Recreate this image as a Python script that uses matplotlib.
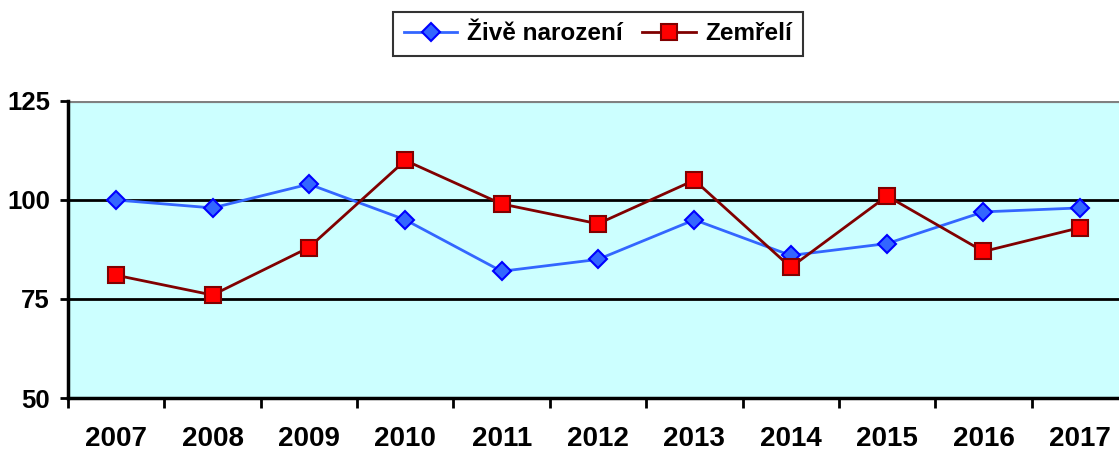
import matplotlib
matplotlib.use("Agg")
import matplotlib.pyplot as plt
from matplotlib.ticker import FixedLocator

years = ["2007", "2008", "2009", "2010", "2011", "2012", "2013", "2014", "2015", "2016", "2017"]
zive_narozeni = [100, 98, 104, 95, 82, 85, 95, 86, 89, 97, 98]
zemreli = [81, 76, 88, 110, 99, 94, 105, 83, 101, 87, 93]
y_ticks = [50, 75, 100, 125]

plt.rcParams["font.family"] = ["Liberation Sans", "DejaVu Sans"]
plt.rcParams["font.weight"] = "bold"

fig = plt.figure(figsize=(11.19, 4.5), dpi=100)
# right edge of the plot area runs past the figure, as in the source
ax = fig.add_axes([68 / 1119, 52 / 450, 1060 / 1119, 297 / 450])
ax.set_facecolor("#CCFFFF")

x = list(range(len(years)))
ax.plot(x, zive_narozeni, color="#3366FF", linewidth=2, marker="D", markersize=9,
        markerfacecolor="#3366FF", markeredgecolor="#0000FF", markeredgewidth=1.5,
        label="Živě narození", zorder=4)
ax.plot(x, zemreli, color="#800000", linewidth=2, marker="s", markersize=11,
        markerfacecolor="#FF0000", markeredgecolor="#800000", markeredgewidth=1.5,
        label="Zemřelí", zorder=5)

ax.set_xlim(-0.5, len(years) - 0.5)
ax.set_ylim(50, 125)
ax.set_yticks(y_ticks)
ax.set_yticklabels([str(v) for v in y_ticks], fontsize=18.5, fontweight="bold")
ax.set_xticks(x)
ax.set_xticklabels(years, fontsize=20, fontweight="bold")
ax.xaxis.set_minor_locator(FixedLocator([i - 0.5 for i in range(len(years) + 1)]))
ax.tick_params(axis="x", which="major", length=0, pad=20)
ax.tick_params(axis="x", which="minor", length=7, width=2, direction="out")
ax.tick_params(axis="y", length=6, width=2, direction="out", pad=7)

for v in [75, 100]:
    ax.axhline(v, color="black", linewidth=2, zorder=2)
ax.axhline(125, color="#808080", linewidth=3, zorder=2)

for s in ["top", "right"]:
    ax.spines[s].set_visible(False)
ax.spines["left"].set_linewidth(2.5)
ax.spines["bottom"].set_linewidth(2.5)

leg = fig.legend(loc="center", bbox_to_anchor=(598 / 1119, 1 - 34 / 450), ncol=2,
                 fontsize=17.5, frameon=True, fancybox=False, handlelength=2.2,
                 columnspacing=0.8, handletextpad=0.4, borderpad=0.45)
leg.get_frame().set_edgecolor("black")
leg.get_frame().set_linewidth(1.5)
for t in leg.get_texts():
    t.set_fontweight("bold")

fig.savefig("out.png", dpi=100)
